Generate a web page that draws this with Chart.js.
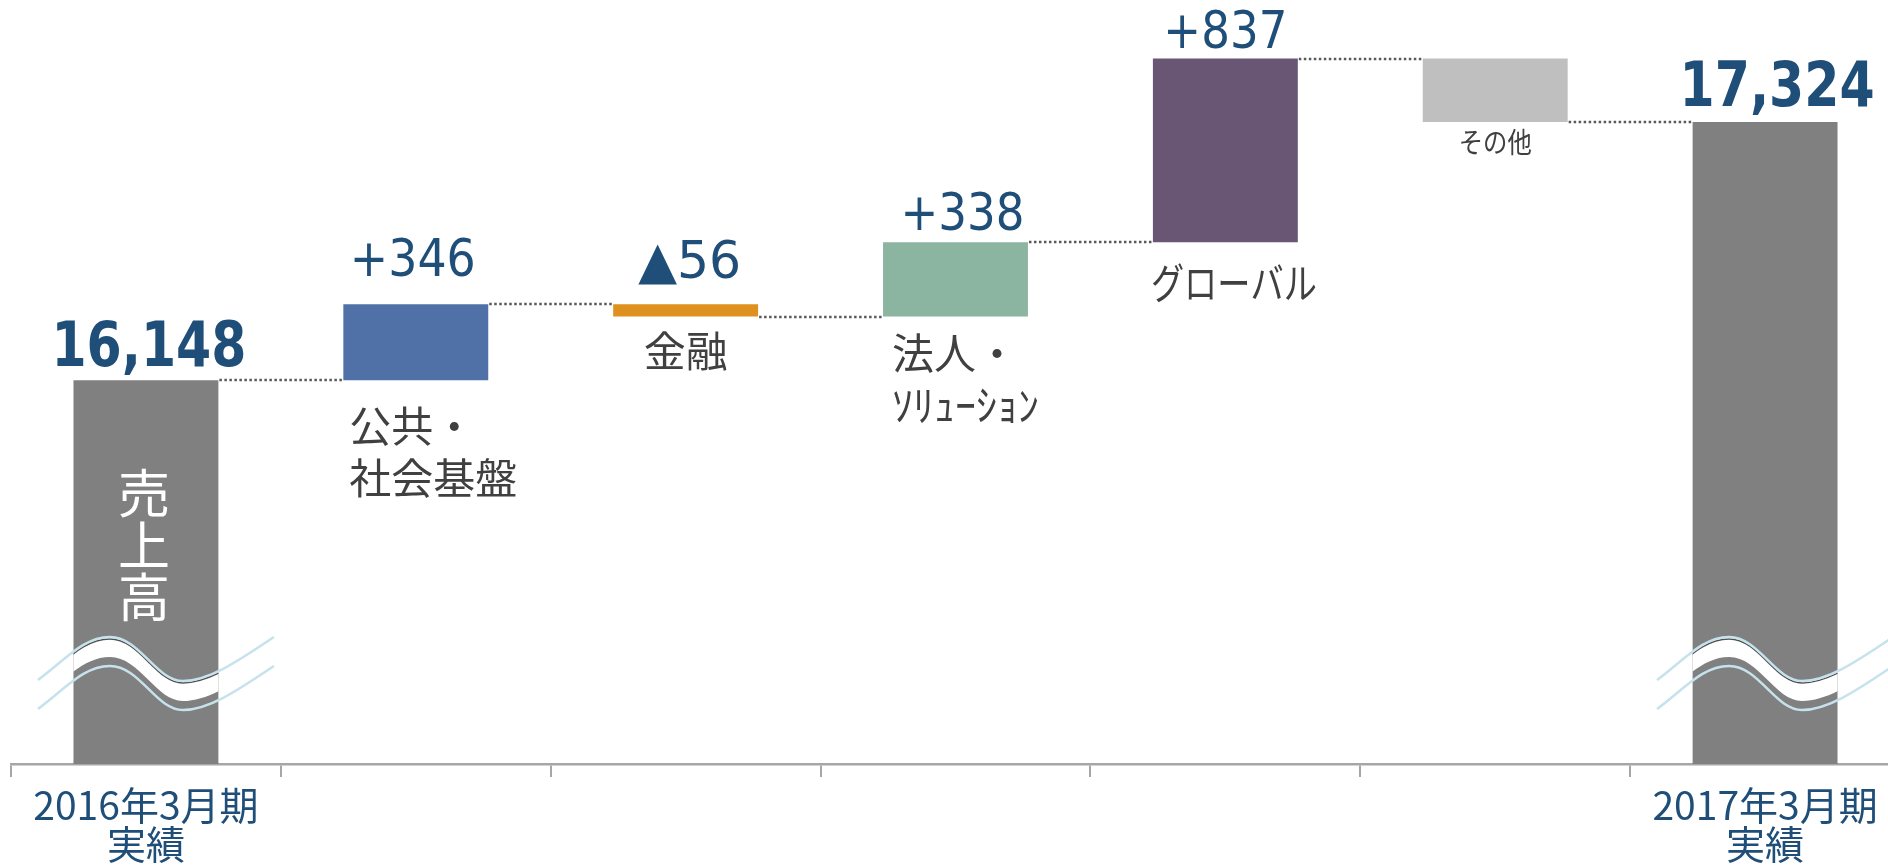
<!DOCTYPE html>
<html lang="ja">
<head>
<meta charset="UTF-8">
<title>売上高 増減</title>
<style>
    html, body { margin: 0; padding: 0; background: #ffffff; overflow: hidden; }
    #wrap { position: relative; width: 1900px; height: 865px; }
</style>
</head>
<body>
<div id="wrap"><canvas id="salesChart"></canvas></div>

<script src="https://cdn.jsdelivr.net/npm/chart.js"></script>
<script>
    // data
    const tickLabels = [['2016年3月期', '実績'], '', '', '', '', '', ['2017年3月期', '実績']];
    const segmentNames = [null, ['公共・', '社会基盤'], ['金融'], ['法人・', 'ｿﾘｭｰｼｮﾝ'], ['グローバル'], ['その他'], null];
    const startTotal = 16148;
    const endTotal = 17324;
    const deltas = [346, -56, 338, 837, -289];
    const valueLabels = ['16,148', '+346', '▲56', '+338', '+837', '', '17,324'];
    const axisFloor = 14400;   // broken axis, bars start here
    const axisTop = 17880;

    const barColors = ['#808080', '#4F71A8', '#DF9120', '#8BB5A0', '#695675', '#BFBFBF', '#808080'];

    // floating ranges for the waterfall
    const ranges = [[axisFloor, startTotal]];
    const levels = [startTotal];
    let running = startTotal;
    deltas.forEach(d => {
        ranges.push([running, running + d]);
        running += d;
        levels.push(running);
    });
    ranges.push([axisFloor, endTotal]);

    // text placement (relative to bar)
    const valueStyle = [
        { font: 'bold 62px "DejaVu Sans"', maxW: 195, dx: 3, dy: -14 },
        { font: '52px "DejaVu Sans"', maxW: 126, dx: -3, dy: -28 },
        { font: '52px "DejaVu Sans"', maxW: 103, dx: 4, dy: -26 },
        { font: '52px "DejaVu Sans"', maxW: 124, dx: 7, dy: -12 },
        { font: '52px "DejaVu Sans"', maxW: 124, dx: 0, dy: -11 },
        null,
        { font: 'bold 62px "DejaVu Sans"', maxW: 195, dx: 12, dy: -16 }
    ];
    const nameStyle = [
        null,
        { align: 'left', dx: 6, dy: [46, 98], size: 42 },
        { align: 'center', dx: 0, dy: [34], size: 42 },
        { align: 'left', dx: 9, dy: [36, 88], size: 42 },
        { align: 'left', dx: -2, dy: [41], size: 42, maxW: 166 },
        { align: 'center', dx: 0, dy: [20], size: 28, maxW: 73 },
        null
    ];

    function wavePath(ctx, cx, cy, shift) {
        ctx.moveTo(cx - 108, cy + 21 + shift);
        ctx.bezierCurveTo(cx - 80, cy + shift, cx - 62, cy - 22 + shift, cx - 36, cy - 22 + shift);
        ctx.bezierCurveTo(cx - 6, cy - 22 + shift, cx + 10, cy + 22 + shift, cx + 37, cy + 22 + shift);
        ctx.bezierCurveTo(cx + 64, cy + 22 + shift, cx + 95, cy + shift, cx + 128, cy - 22 + shift);
    }

    const decorPlugin = {
        id: 'decor',
        afterDatasetsDraw(chart) {
            const ctx = chart.ctx;
            const meta = chart.getDatasetMeta(0);
            const yScale = chart.scales.y;
            const bars = meta.data;
            ctx.save();

            // dotted connectors
            ctx.strokeStyle = '#595959';
            ctx.lineWidth = 2.5;
            ctx.setLineDash([2.5, 2.5]);
            for (let i = 0; i < bars.length - 1; i++) {
                const a = bars[i], b = bars[i + 1];
                const y = Math.round(yScale.getPixelForValue(levels[i]));
                ctx.beginPath();
                ctx.moveTo(a.x + a.width / 2 + 1, y);
                ctx.lineTo(b.x - b.width / 2 - 1, y);
                ctx.stroke();
            }
            ctx.setLineDash([]);

            // axis break waves on the total bars
            [0, bars.length - 1].forEach(i => {
                const b = bars[i];
                const cx = b.x;
                const cy = chart.chartArea.bottom - 105;
                ctx.save();
                ctx.beginPath();
                ctx.rect(b.x - b.width / 2, chart.chartArea.top, b.width, chart.chartArea.bottom - chart.chartArea.top);
                ctx.clip();
                ctx.beginPath();
                wavePath(ctx, cx, cy, 0);
                ctx.lineTo(cx + 128, cy - 22 + 20);
                ctx.bezierCurveTo(cx + 95, cy + 20, cx + 64, cy + 42, cx + 37, cy + 42);
                ctx.bezierCurveTo(cx + 10, cy + 42, cx - 6, cy - 2, cx - 36, cy - 2);
                ctx.bezierCurveTo(cx - 62, cy - 2, cx - 80, cy + 20, cx - 108, cy + 41);
                ctx.closePath();
                ctx.fillStyle = '#ffffff';
                ctx.fill();
                ctx.beginPath();
                wavePath(ctx, cx, cy, 2);
                ctx.strokeStyle = '#505050';
                ctx.lineWidth = 1.5;
                ctx.stroke();
                ctx.restore();
                ctx.strokeStyle = '#C6E2EC';
                ctx.lineWidth = 2.5;
                ctx.beginPath();
                wavePath(ctx, cx, cy, 0);
                ctx.stroke();
                ctx.beginPath();
                wavePath(ctx, cx, cy, 29);
                ctx.stroke();
            });

            // value labels
            ctx.fillStyle = '#1F4E79';
            ctx.textAlign = 'center';
            ctx.textBaseline = 'alphabetic';
            bars.forEach((b, i) => {
                const st = valueStyle[i];
                if (!st || !valueLabels[i]) return;
                const top = Math.min(b.y, b.base);
                ctx.font = st.font;
                ctx.fillText(valueLabels[i], b.x + st.dx, top + st.dy, st.maxW);
            });

            // segment names
            ctx.fillStyle = '#404040';
            ctx.textBaseline = 'middle';
            bars.forEach((b, i) => {
                const st = nameStyle[i];
                if (!st) return;
                const bottom = Math.max(b.y, b.base);
                ctx.font = st.size + 'px "Noto Sans CJK JP"';
                ctx.textAlign = st.align;
                const x = st.align === 'left' ? b.x - b.width / 2 + st.dx : b.x + st.dx;
                segmentNames[i].forEach((line, k) => {
                    if (st.maxW) ctx.fillText(line, x, bottom + st.dy[k], st.maxW);
                    else ctx.fillText(line, x, bottom + st.dy[k]);
                });
            });

            // vertical title inside first bar
            const first = bars[0];
            ctx.fillStyle = '#ffffff';
            ctx.textAlign = 'center';
            ctx.font = '52px "Noto Sans CJK JP"';
            ['売', '上', '高'].forEach((ch, k) => {
                ctx.fillText(ch, first.x - 2, Math.min(first.y, first.base) + 113 + k * 52);
            });

            ctx.restore();
        }
    };

    const ctx = document.getElementById('salesChart').getContext('2d');
    new Chart(ctx, {
        type: 'bar',
        data: {
            labels: tickLabels,
            datasets: [{
                data: ranges,
                backgroundColor: barColors,
                borderWidth: 0,
                categoryPercentage: 1.0,
                barPercentage: 0.537
            }]
        },
        options: {
            responsive: true,
            maintainAspectRatio: false,
            animation: false,
            layout: { padding: { left: 11, right: 0, top: 0, bottom: 0 } },
            plugins: {
                legend: { display: false },
                tooltip: { enabled: false }
            },
            scales: {
                x: {
                    afterFit: (scale) => { scale.height = 101; },
                    grid: {
                        offset: true,
                        drawOnChartArea: false,
                        drawTicks: true,
                        tickLength: 13,
                        color: '#A6A6A6',
                        lineWidth: 2
                    },
                    border: { display: true, color: '#A6A6A6', width: 2.5 },
                    ticks: {
                        color: '#1F4E79',
                        padding: 9,
                        autoSkip: false,
                        maxRotation: 0,
                        font: { family: '"Noto Sans CJK JP"', size: 39, lineHeight: 1.0 }
                    }
                },
                y: {
                    display: false,
                    min: axisFloor,
                    max: axisTop
                }
            }
        },
        plugins: [decorPlugin]
    });
</script>
</body>
</html>
